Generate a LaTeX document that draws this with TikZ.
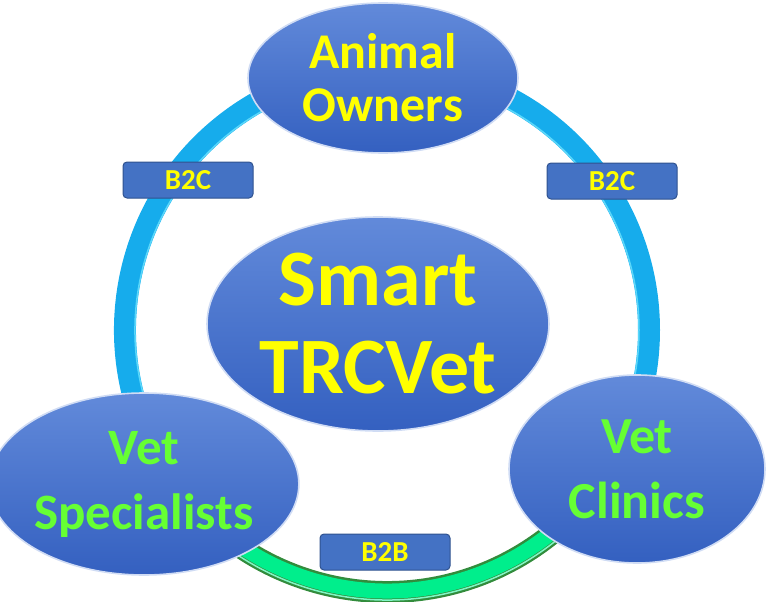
\documentclass[tikz,border=0pt]{standalone}
\usepackage{fontspec}
\setmainfont{Carlito}
\usetikzlibrary{shapes.geometric}
\definecolor{ringblue}{RGB}{22,172,236}
\definecolor{ringlight}{RGB}{90,215,250}
\definecolor{ringgreen}{RGB}{0,238,140}
\definecolor{ringdark}{RGB}{50,140,60}
\definecolor{boxfill}{RGB}{68,114,196}
\definecolor{boxline}{RGB}{47,82,143}
\definecolor{elltop}{RGB}{98,138,218}
\definecolor{ellbot}{RGB}{52,96,192}
\definecolor{txtyellow}{RGB}{255,255,0}
\definecolor{txtgreen}{RGB}{102,255,51}
\tikzset{
  bubble/.style={ellipse, inner sep=0pt, top color=elltop, bottom color=ellbot,
    draw=white!70!elltop, line width=1.6pt, align=center},
  tagbox/.style={rectangle, rounded corners=4pt, fill=boxfill, draw=boxline,
    line width=1pt, minimum width=130pt, minimum height=36pt, inner sep=0pt,
    text=txtyellow, font=\bfseries\fontsize{29}{30}\selectfont}
}
\begin{document}
\begin{tikzpicture}[x=1pt,y=-1pt]
\useasboundingbox (0,0) rectangle (768,602);
\coordinate (c) at (387,330);
% ring blue
\draw[ringblue, line width=22pt] (c) ++(150:262) arc[start angle=150, end angle=390, radius=262];
\draw[ringlight, line width=1.5pt] (c) ++(150:252) arc[start angle=150, end angle=390, radius=252];
% ring green
\draw[ringdark, line width=22pt] (c) ++(150:262) arc[start angle=150, end angle=30, radius=262];
\draw[ringgreen, line width=15pt] (c) ++(150:261) arc[start angle=150, end angle=30, radius=261];
\draw[white!50!ringgreen, line width=1.5pt] (c) ++(150:270) arc[start angle=150, end angle=30, radius=270];
% ellipses
\node[bubble, minimum width=270pt, minimum height=150pt, text=txtyellow,
  font=\bfseries\fontsize{50}{53}\selectfont] (owners) at (383,78) {Animal\\Owners};
\node[bubble, minimum width=342pt, minimum height=214pt, text=txtyellow,
  font=\bfseries\fontsize{80}{88}\selectfont] (smart) at (378,324) {Smart\\TRCVet};
\node[bubble, minimum width=278pt, minimum height=182pt, text=txtgreen,
  font=\bfseries\fontsize{51}{65}\selectfont] (spec) at (144,484) {Vet\\Specialists};
\node[bubble, minimum width=256pt, minimum height=188pt, text=txtgreen,
  font=\bfseries\fontsize{52}{65}\selectfont] (clinics) at (637,469) {Vet\\Clinics};
% tags
\node[tagbox] (b2cl) at (188,180) {B2C};
\node[tagbox] (b2cr) at (612,181) {B2C};
\node[tagbox] (b2b) at (385,552) {B2B};
\end{tikzpicture}
\end{document}
